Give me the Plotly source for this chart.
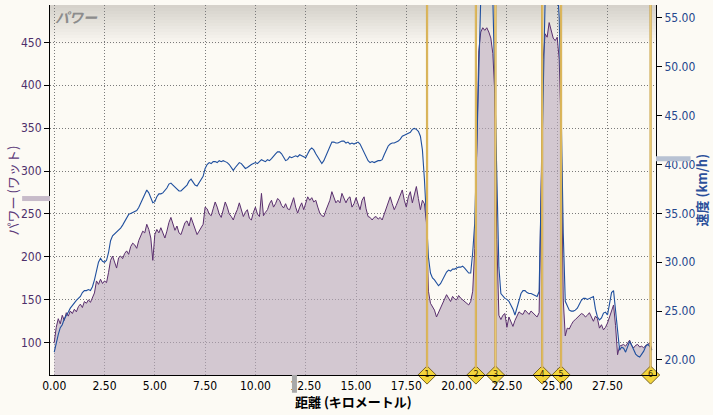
import plotly.graph_objects as go

# ---------------- data ----------------
DIST_STEP_KM = 0.1
power_w = [
    100, 118, 128, 122, 132, 126, 135, 131, 137, 134,
    139, 136, 142, 145, 141, 148, 146, 150, 147, 152,
    158, 172, 168, 174, 169, 172, 170, 182, 196, 201,
    194, 187, 199, 201, 198, 204, 207, 203, 212, 216,
    214, 210, 219, 225, 230, 228, 238, 232, 222, 196,
    226, 232, 228, 234, 229, 222, 230, 240, 246, 238,
    231, 236, 228, 226, 234, 240, 242, 236, 246, 240,
    232, 226, 230, 234, 238, 258, 256, 250, 248, 256,
    264, 258, 250, 246, 254, 264, 258, 250, 247, 243,
    250, 255, 263, 256, 247, 252, 255, 245, 243, 252,
    258, 250, 247, 274, 248, 252, 255, 262, 266, 258,
    262, 268, 266, 260, 257, 262, 256, 255, 262, 269,
    258, 251, 258, 263, 255, 262, 270, 266, 269, 264,
    266, 258, 251, 248, 247, 254, 260, 266, 276, 270,
    263, 266, 263, 274, 268, 263, 268, 270, 258, 262,
    269, 262, 255, 266, 270, 256, 247, 246, 243, 246,
    247, 244, 246, 243, 250, 258, 264, 270, 262, 255,
    260, 266, 272, 278, 266, 258, 270, 276, 263, 272,
    282, 268, 255, 266, 262, 240, 160, 146, 142, 138,
    130, 135, 142, 146, 150, 156, 152, 148, 154, 151,
    150, 155, 152, 150, 148, 145, 144, 148, 160, 210,
    340, 440, 462, 467, 464, 467, 462, 455, 437, 390,
    220, 132, 127, 132, 134, 118, 130, 124, 119, 126,
    131, 136, 134, 133, 138, 136, 133, 137, 135, 132,
    130, 135, 300, 430, 460, 456, 473, 462, 455, 452,
    456, 430, 344, 150, 108, 117, 116, 121, 125, 127,
    129, 131, 134, 133, 130, 132, 135, 130, 125, 131,
    128, 117, 121, 115, 118, 123, 130, 138, 144, 120,
    86, 96, 97, 98, 96, 99, 103, 97, 94, 97,
    98, 95, 96, 94, 97, 98, 100, 92,
]
speed_kmh = [
    20.8, 21.8, 22.6, 23.3, 23.6, 24.2, 24.5, 24.9, 25.3, 25.6,
    25.9, 26.1, 26.3, 26.5, 26.9, 27.1, 27.1, 27.2, 27.1, 27.5,
    28.2, 29.3, 30.0, 30.4, 30.1, 30.0, 30.2, 31.0, 32.2, 32.7,
    32.9, 33.0, 33.2, 33.5, 33.8, 34.2, 34.6, 34.9, 35.0, 35.1,
    35.2, 35.3, 35.6, 36.1, 36.5, 37.0, 37.4, 37.1, 36.6, 36.1,
    36.2, 36.7, 37.0, 37.0, 37.1, 37.3, 37.6, 38.0, 38.1, 37.9,
    37.7, 37.5, 37.3, 37.3, 37.5, 37.7, 37.9, 38.3, 38.5, 38.2,
    37.9, 37.8, 38.1, 38.4, 38.8, 39.6, 40.0, 40.2, 40.1, 40.3,
    40.3, 40.2, 40.4, 40.3, 40.4, 40.3, 40.2, 40.0, 39.7, 39.4,
    39.7, 40.0, 40.2, 40.1, 39.8, 39.6, 39.7, 39.9, 40.0, 40.1,
    40.2, 40.1, 40.3, 40.5, 40.4, 40.3, 40.5, 40.4, 40.6, 40.9,
    41.1, 41.3, 41.3, 41.1, 40.7, 40.4, 40.5, 40.8, 40.7, 40.8,
    40.9, 40.8, 41.0, 40.9, 40.8, 40.7, 41.1, 41.5, 41.7, 41.5,
    41.1, 40.8, 40.4, 40.1, 40.4, 40.9, 41.4, 41.9, 42.3, 42.3,
    42.2, 42.2, 42.3, 42.4, 42.4, 42.2, 42.3, 42.1, 42.2, 42.1,
    42.2, 42.3, 42.1, 41.7, 41.3, 40.8, 40.4, 40.2, 40.3, 40.2,
    40.3, 40.4, 40.4, 40.5, 41.0, 41.5, 41.9, 42.1, 42.2, 42.2,
    42.3, 42.4, 42.6, 42.9, 43.0, 43.1, 43.2, 43.3, 43.6, 43.7,
    43.6, 43.4, 42.9, 41.5, 38.5, 35.0, 30.5, 28.9, 28.4, 28.2,
    27.9, 27.6, 27.8, 28.2, 28.6, 29.0, 29.2, 29.1, 29.3, 29.3,
    29.4, 29.5, 29.5, 29.6, 29.4, 29.2, 28.9, 28.9, 31.0, 34.0,
    41.0, 50.0, 57.0, 60.0, 61.0, 61.0, 60.5, 59.5, 57.0, 48.0,
    38.0, 29.5, 26.8, 26.5, 26.3, 26.2, 26.0, 25.6, 25.2, 24.6,
    25.3, 26.2, 26.8, 27.1, 27.1, 26.9, 26.8, 26.8, 26.7, 26.6,
    26.5, 27.0, 38.0, 50.0, 57.0, 59.5, 60.5, 60.5, 60.0, 59.5,
    58.5, 55.0, 45.0, 33.0, 26.0, 25.6, 25.1, 25.0, 25.0, 25.1,
    25.3, 25.7, 26.1, 26.3, 26.3, 26.2, 26.3, 26.4, 26.5, 25.2,
    24.4, 24.1, 24.3, 24.8, 24.9, 24.6, 25.6, 26.9, 27.1, 25.0,
    22.4, 21.0, 21.3, 21.2, 20.8, 21.3, 21.9, 21.5, 21.1, 20.6,
    20.4, 20.3, 20.6, 20.9, 21.4, 21.6, 21.4, 21.0,
]
distance_km = [round(i * DIST_STEP_KM, 1) for i in range(len(power_w))]

lap_km = [18.53, 20.96, 21.93, 24.25, 25.19, 29.64]
lap_labels = ["1", "2", "3", "4", "5", "6"]

x_ticks = [0, 2.5, 5, 7.5, 10, 12.5, 15, 17.5, 20, 22.5, 25, 27.5]
power_ticks = [100, 150, 200, 250, 300, 350, 400, 450]
speed_ticks = [20, 25, 30, 35, 40, 45, 50, 55]

cursor_km = 11.94
cursor_power = 268
cursor_speed = 40.6

# ---------------- style ----------------
X_RANGE = [-0.21, 29.91]
P_RANGE = [62.4, 493.5]
S_RANGE = [18.46, 56.33]
BG = "#fcfaf4"
PURPLE = "#5a2f6e"
BLUE = "#1f4f9e"
GRID_DASH = "1px,2px"
TICK_FONT = "Liberation Sans Narrow, DejaVu Sans Condensed, Liberation Sans, sans-serif"
JP_FONT = "Noto Sans CJK JP, sans-serif"

fig = go.Figure()

fig.add_trace(go.Scatter(
    x=distance_km, y=power_w, mode="lines",
    line=dict(color=PURPLE, width=1),
    fill="tozeroy", fillcolor="rgba(186,170,188,0.62)",
    hoverinfo="skip", showlegend=False,
))
fig.add_trace(go.Scatter(
    x=distance_km, y=speed_kmh, mode="lines", yaxis="y2",
    line=dict(color=BLUE, width=1.1),
    hoverinfo="skip", showlegend=False,
))

shapes = []
# top gradient inside plot area
n_bands = 14
plot_h_px = 370.0
for i in range(n_bands):
    t = i / (n_bands - 1)
    c0 = (214, 210, 203)
    c1 = (252, 250, 244)
    col = tuple(int(c0[k] + (c1[k] - c0[k]) * t) for k in range(3))
    y1 = 1 - (i * 3.0) / plot_h_px
    y0 = 1 - ((i + 1) * 3.0) / plot_h_px
    shapes.append(dict(type="rect", xref="paper", yref="paper", x0=0, x1=1,
                       y0=y0, y1=y1, line=dict(width=0),
                       fillcolor="rgb(%d,%d,%d)" % col, layer="below"))

# lap lines (stop just above the diamond so its number stays readable)
LAP_LINE_Y0 = 0.018
for d in lap_km:
    shapes.append(dict(type="line", xref="x", yref="paper", x0=d, x1=d, y0=LAP_LINE_Y0, y1=1,
                       line=dict(color="#c9a043", width=2.2), layer="above"))
    shapes.append(dict(type="line", xref="x", yref="paper", x0=d, x1=d, y0=LAP_LINE_Y0, y1=1,
                       line=dict(color="#f2d680", width=0.8), layer="above"))

# cursor markers
shapes.append(dict(type="line", xref="paper", yref="y", x0=-0.046, x1=0,
                   y0=cursor_power, y1=cursor_power,
                   line=dict(color="#c7bbc9", width=5)))
shapes.append(dict(type="line", xref="paper", yref="y2", x0=1.0, x1=1.057,
                   y0=cursor_speed, y1=cursor_speed,
                   line=dict(color="#b8c2d3", width=5)))
shapes.append(dict(type="line", xref="x", yref="paper", x0=cursor_km, x1=cursor_km,
                   y0=0, y1=-0.048, line=dict(color="#a8a8a8", width=5)))

fig.add_trace(go.Scatter(
    x=lap_km, y=[P_RANGE[0]] * len(lap_km), mode="markers+text",
    marker=dict(symbol="diamond", size=14, color="#f3d53c",
                line=dict(color="#7a6420", width=1)),
    text=lap_labels, textposition="middle center",
    textfont=dict(size=8, color="#3a2a00", family="DejaVu Sans"),
    cliponaxis=False, hoverinfo="skip", showlegend=False,
))

annotations = [
    dict(text="<i><b>パワー</b></i>", xref="paper", yref="paper",
         x=0.005, y=1.0, xanchor="left", yanchor="top", showarrow=False,
         font=dict(family=JP_FONT, size=14, color="#8c8c8c")),
    dict(text="<b>距離 (キロメートル)</b>", xref="paper", yref="paper",
         x=0.5, y=-0.072, xanchor="center", yanchor="middle", showarrow=False,
         font=dict(family=JP_FONT, size=13, color="#000000")),
    dict(text="パワー (ワット)", xref="paper", yref="paper",
         x=-0.062, y=0.5, xanchor="center", yanchor="middle", showarrow=False,
         textangle=-90, font=dict(family=JP_FONT, size=13, color="#5c3a7a")),
    dict(text="<b>速度 (km/h)</b>", xref="paper", yref="paper",
         x=1.075, y=0.5, xanchor="center", yanchor="middle", showarrow=False,
         textangle=-90, font=dict(family=JP_FONT, size=13, color="#2b4f9a")),
]

fig.update_layout(
    width=713, height=415,
    margin=dict(l=50, r=57, t=5, b=40),
    paper_bgcolor=BG, plot_bgcolor=BG,
    showlegend=False,
    shapes=shapes, annotations=annotations,
    xaxis=dict(
        range=X_RANGE, tickvals=x_ticks, tickformat=".2f",
        showgrid=True, gridcolor="#7a7a7a", griddash=GRID_DASH, gridwidth=1,
        zeroline=False, showline=True, linecolor="#000000", linewidth=1,
        ticks="", tickfont=dict(family=TICK_FONT, size=12, color="#000000"),
    ),
    yaxis=dict(
        range=P_RANGE, tickvals=power_ticks,
        showgrid=True, gridcolor="#7a7a7a", griddash=GRID_DASH, gridwidth=1,
        zeroline=False, showline=True, linecolor="#000000", linewidth=1,
        ticks="outside", ticklen=5, tickcolor="#000000",
        tickfont=dict(family=TICK_FONT, size=12, color="#4e2f6a"),
    ),
    yaxis2=dict(
        range=S_RANGE, tickvals=speed_ticks, tickformat=".2f",
        overlaying="y", side="right", showgrid=False,
        zeroline=False, showline=True, linecolor="#000000", linewidth=1,
        ticks="outside", ticklen=5, tickcolor="#000000",
        tickfont=dict(family=TICK_FONT, size=12, color="#24468c"),
    ),
)

fig.write_html(
    "out.html",
    config={"displayModeBar": False},
    post_script="document.body.style.margin='0';document.body.style.background='%s';" % BG,
)
